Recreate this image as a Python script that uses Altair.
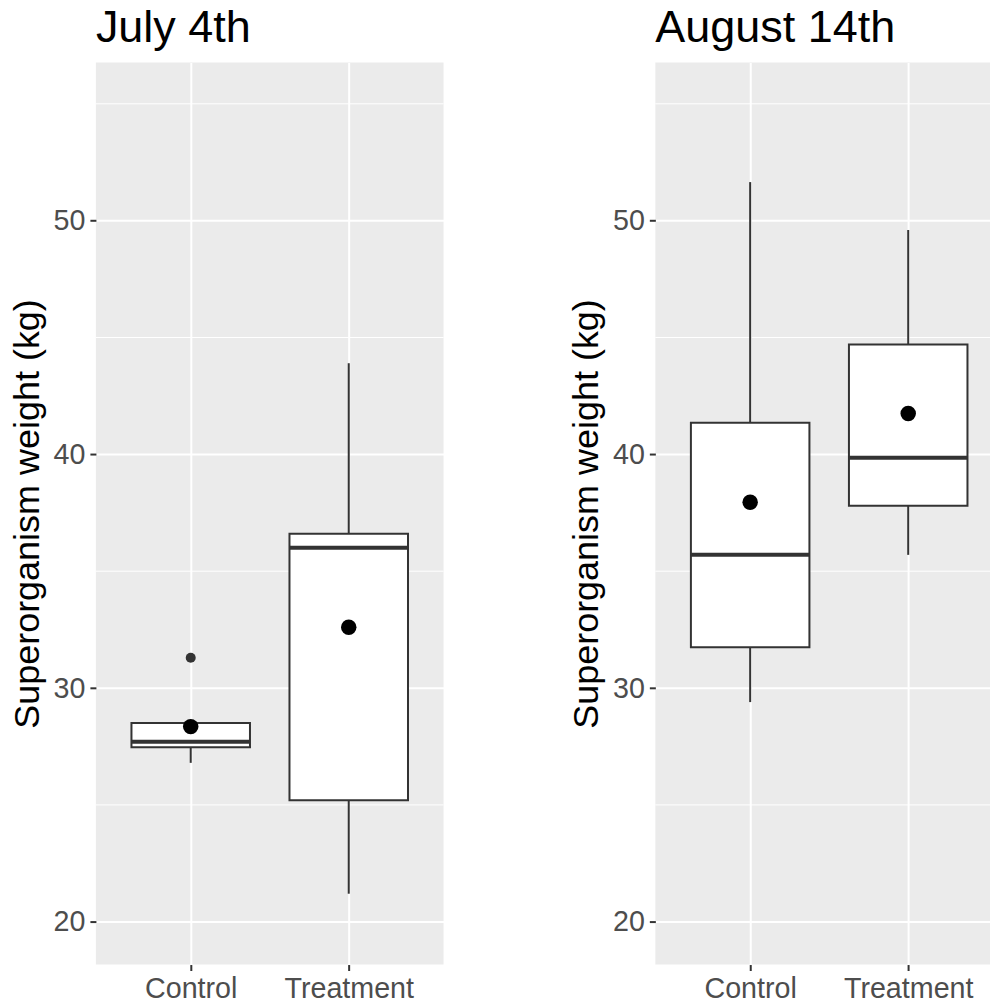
import altair as alt
import pandas as pd

groups = ["Control", "Treatment"]
group_idx = [1, 2]

# July 4th summary values
jul_lower = [26.8, 21.2]
jul_q1 = [27.47, 25.2]
jul_median = [27.7, 36.0]
jul_q3 = [28.5, 36.6]
jul_upper = [28.5, 43.9]
jul_mean = [28.35, 32.6]
jul_out_group = [1]
jul_out_value = [31.3]

# August 14th summary values
aug_lower = [29.4, 35.7]
aug_q1 = [31.75, 37.8]
aug_median = [35.7, 39.85]
aug_q3 = [41.35, 44.7]
aug_upper = [51.65, 49.6]
aug_mean = [37.95, 41.75]
aug_out_group = []
aug_out_value = []

major_breaks = [20, 30, 40, 50]
minor_breaks = [25, 35, 45, 55]
y_domain = [18.17, 56.77]

FONT = "Liberation Sans"
DARK = "#333333"
label_expr = "[" + ",".join("'%s'" % g for g in groups) + "][datum.value - 1]"


def panel(title, lower, q1, med, q3, upper, mean, og, ov, width, xmax):
    half = 0.375
    df = pd.DataFrame({
        "idx": group_idx,
        "left": [i - half for i in group_idx],
        "right": [i + half for i in group_idx],
        "lower": lower, "q1": q1, "median": med, "q3": q3,
        "upper": upper, "mean": mean,
    })
    xs = alt.Scale(domain=[0.4, xmax], nice=False, zero=False)
    ys = alt.Scale(domain=y_domain, nice=False, zero=False)
    base = alt.Chart(df)

    xaxis = alt.Axis(values=group_idx, labelExpr=label_expr, title=None,
                     grid=True, gridColor="white", gridWidth=2, gridOpacity=1,
                     domain=False,
                     tickColor=DARK, tickSize=6, tickWidth=2,
                     labelFontSize=28.7, labelColor="#4D4D4D", labelFont=FONT,
                     labelPadding=4)
    yaxis = alt.Axis(values=major_breaks, title="Superorganism weight (kg)",
                     titleFontSize=36, titleFontWeight="normal", titleColor="black",
                     titleFont=FONT, titlePadding=7,
                     grid=True, gridColor="white", gridWidth=2, gridOpacity=1,
                     domain=False,
                     tickColor=DARK, tickSize=6, tickWidth=2,
                     labelFontSize=28.7, labelColor="#4D4D4D", labelFont=FONT,
                     labelPadding=5)

    def X(f):
        return alt.X(f, scale=xs, axis=xaxis)

    def Y(f):
        return alt.Y(f, scale=ys, axis=yaxis)

    minor = alt.Chart(pd.DataFrame({"v": minor_breaks,
                                    "a": [0.4] * len(minor_breaks),
                                    "b": [xmax] * len(minor_breaks)})).mark_rule(
        color="white", strokeWidth=1).encode(
        x=X("a:Q"), x2="b:Q", y=Y("v:Q"))
    w_low = base.mark_rule(color=DARK, strokeWidth=2).encode(
        x=X("idx:Q"), y=Y("lower:Q"), y2="q1:Q")
    w_up = base.mark_rule(color=DARK, strokeWidth=2).encode(
        x=X("idx:Q"), y=Y("q3:Q"), y2="upper:Q")
    box = base.mark_bar(fill="white", stroke=DARK, strokeWidth=2).encode(
        x=X("left:Q"), x2="right:Q", y=Y("q1:Q"), y2="q3:Q")
    medline = base.mark_rule(color=DARK, strokeWidth=4).encode(
        x=X("left:Q"), x2="right:Q", y=Y("median:Q"))
    layers = [minor, w_low, w_up, box, medline]
    if len(og):
        out = alt.Chart(pd.DataFrame({"idx": og, "v": ov})).mark_circle(
            color=DARK, size=100, opacity=1).encode(x=X("idx:Q"), y=Y("v:Q"))
        layers.append(out)
    means = base.mark_circle(color="black", size=240, opacity=1).encode(
        x=X("idx:Q"), y=Y("mean:Q"))
    layers.append(means)
    return alt.layer(*layers).properties(
        width=width, height=903,
        title=alt.TitleParams(title, anchor="start", frame="group", fontSize=45,
                              fontWeight="normal", font=FONT, color="black",
                              offset=11))


left = panel("July 4th", jul_lower, jul_q1, jul_median, jul_q3, jul_upper, jul_mean,
             jul_out_group, jul_out_value, 348, 2.6)
right = panel("August 14th", aug_lower, aug_q1, aug_median, aug_q3, aug_upper, aug_mean,
              aug_out_group, aug_out_value, 335, 0.4 + 335 / 158.2)

chart = alt.hconcat(left, right, spacing=124).properties(
    padding={"left": 9, "top": 6, "right": 0, "bottom": 0},
    background="white",
).configure_view(fill="#EBEBEB", strokeWidth=0)

chart.save("out.html", embed_options={"renderer": "svg", "actions": False})
